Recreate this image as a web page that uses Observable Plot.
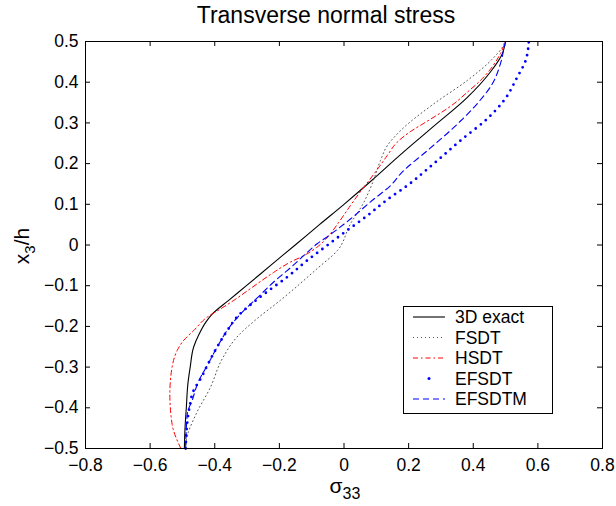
<!DOCTYPE html>
<html><head><meta charset="utf-8">
<script src="https://cdn.jsdelivr.net/npm/d3@7"></script>
<script src="https://cdn.jsdelivr.net/npm/@observablehq/plot@0.6"></script>
<style>body{margin:0;background:#fff}</style>
</head><body><div id="chart"></div>
<script>
const xTicks = [-0.8, -0.6, -0.4, -0.2, 0, 0.2, 0.4, 0.6, 0.8];
const yTicks = [-0.5, -0.4, -0.3, -0.2, -0.1, 0, 0.1, 0.2, 0.3, 0.4, 0.5];
const seriesNames = ["3D exact", "FSDT", "HSDT", "EFSDT", "EFSDTM"];

const exactY = [-0.5,-0.45,-0.4,-0.34,-0.3,-0.25,-0.22,-0.19,-0.17,-0.136,-0.1,-0.05,0,0.05,0.1,0.156,0.222,0.292,0.362,0.425,0.47,0.5];
const exactX = [-0.494,-0.492,-0.488,-0.483,-0.476,-0.465,-0.449,-0.428,-0.408,-0.357,-0.302,-0.227,-0.151,-0.076,0.0,0.082,0.175,0.278,0.381,0.453,0.49,0.5];

const fsdtY = [-0.5,-0.48,-0.419,-0.349,-0.28,-0.226,-0.181,-0.136,-0.058,-0.014,0.052,0.1,0.15,0.208,0.244,0.281,0.347,0.404,0.461,0.49,0.5];
const fsdtX = [-0.49,-0.488,-0.46,-0.413,-0.377,-0.331,-0.269,-0.197,-0.083,-0.021,0.02,0.058,0.087,0.113,0.134,0.175,0.278,0.381,0.464,0.493,0.497];

const hsdtY = [-0.5,-0.44,-0.366,-0.3,-0.259,-0.239,-0.21,-0.177,-0.157,-0.136,-0.104,-0.067,-0.042,-0.026,-0.005,0.023,0.056,0.097,0.126,0.158,0.191,0.22,0.253,0.281,0.298,0.347,0.375,0.404,0.47,0.5];
const hsdtX = [-0.505,-0.532,-0.539,-0.532,-0.516,-0.501,-0.465,-0.423,-0.382,-0.341,-0.284,-0.217,-0.166,-0.124,-0.083,-0.047,-0.016,0.02,0.046,0.077,0.108,0.134,0.165,0.21,0.245,0.34,0.381,0.422,0.484,0.5];

const efsdtY = [-0.5,-0.464,-0.398,-0.357,-0.329,-0.288,-0.243,-0.21,-0.177,-0.14,-0.112,-0.079,-0.038,-0.001,0.036,0.072,0.109,0.146,0.2,0.257,0.31,0.355,0.412,0.453,0.5];
const efsdtX = [-0.49,-0.488,-0.478,-0.465,-0.444,-0.418,-0.387,-0.361,-0.331,-0.279,-0.233,-0.176,-0.114,-0.052,0.01,0.072,0.13,0.196,0.278,0.361,0.443,0.495,0.536,0.562,0.572];

const efsdtmY = [-0.5,-0.415,-0.382,-0.333,-0.296,-0.243,-0.198,-0.161,-0.134,-0.087,-0.063,-0.022,0.003,0.023,0.064,0.106,0.15,0.175,0.232,0.289,0.347,0.396,0.445,0.49,0.5];
const efsdtmX = [-0.49,-0.485,-0.47,-0.449,-0.423,-0.387,-0.351,-0.31,-0.274,-0.212,-0.176,-0.119,-0.083,-0.047,0.02,0.082,0.149,0.175,0.258,0.34,0.412,0.459,0.484,0.497,0.5];

const toRows = (xs, ys) => xs.map((x, i) => ({x, y: ys[i]}));
const exact = toRows(exactX, exactY);
const fsdt = toRows(fsdtX, fsdtY);
const hsdt = toRows(hsdtX, hsdtY);
const efsdt = toRows(efsdtX, efsdtY);
const efsdtm = toRows(efsdtmX, efsdtmY);

const styles = [
  {stroke: "black", strokeWidth: 1.1},
  {stroke: "#555", strokeWidth: 1, strokeDasharray: "1,3"},
  {stroke: "#ff0000", strokeWidth: 1, strokeDasharray: "5,3,1.5,3"},
  {stroke: "#0000ff", strokeWidth: 2.8, strokeDasharray: "0,6.5", strokeLinecap: "round"},
  {stroke: "#0000ff", strokeWidth: 1.1, strokeDasharray: "6,4"}
];

const W = 616, H = 506, mL = 85, mR = 14, mT = 41, mB = 58;
const frameH = H - mT - mB, frameW = W - mL - mR, tick = 5;
const font = "'Liberation Sans', Arial, Helvetica, sans-serif";
const fmt = d3.format("");

const chart = Plot.plot({
  width: W, height: H,
  marginLeft: mL, marginRight: mR, marginTop: mT, marginBottom: mB,
  style: {fontFamily: font, fontSize: "17.5px", background: "white", color: "black"},
  x: {domain: [-0.8, 0.8]},
  y: {domain: [-0.5, 0.5]},
  marks: [
    Plot.line(exact, {x: "x", y: "y", curve: "monotone-y", ...styles[0]}),
    Plot.line(fsdt, {x: "x", y: "y", curve: "monotone-y", ...styles[1]}),
    Plot.line(hsdt, {x: "x", y: "y", curve: "monotone-y", ...styles[2]}),
    Plot.line(efsdt, {x: "x", y: "y", curve: "monotone-y", ...styles[3]}),
    Plot.line(efsdtm, {x: "x", y: "y", curve: "monotone-y", ...styles[4]}),
    Plot.ruleX(xTicks, {x: d => d, insetTop: frameH - tick, stroke: "black"}),
    Plot.ruleX(xTicks, {x: d => d, insetBottom: frameH - tick, stroke: "black"}),
    Plot.ruleY(yTicks, {y: d => d, insetRight: frameW - tick, stroke: "black"}),
    Plot.ruleY(yTicks, {y: d => d, insetLeft: frameW - tick, stroke: "black"}),
    Plot.axisX({ticks: xTicks, tickFormat: fmt, tickSize: 0, tickPadding: 10, label: null, fontSize: 17.5}),
    Plot.axisY({ticks: yTicks, tickFormat: fmt, tickSize: 0, tickPadding: 7, label: null, fontSize: 17.5}),
    Plot.frame({stroke: "black", strokeWidth: 1})
  ]
});
document.getElementById("chart").appendChild(chart);

const svg = d3.select(chart);
svg.append("text").attr("x", 326).attr("y", 23).attr("text-anchor", "middle")
  .attr("font-family", font).attr("font-size", 23).attr("fill", "black")
  .text("Transverse normal stress");

const xl = svg.append("text").attr("x", 345).attr("y", 493).attr("text-anchor", "middle")
  .attr("font-family", font).attr("font-size", 21).attr("fill", "black");
xl.append("tspan").text("σ");
xl.append("tspan").attr("dy", 6).attr("font-size", 16).text("33");

const yl = svg.append("text").attr("transform", "translate(29,246) rotate(-90)")
  .attr("text-anchor", "middle").attr("font-family", font).attr("font-size", 21).attr("fill", "black");
yl.append("tspan").text("x");
yl.append("tspan").attr("dy", 6).attr("font-size", 15).text("3");
yl.append("tspan").attr("dy", -6).text("/h");

// legend
const lg = svg.append("g").attr("text-anchor", "start");
lg.append("rect").attr("x", 403.5).attr("y", 306.5).attr("width", 149).attr("height", 107)
  .attr("fill", "white").attr("stroke", "black").attr("stroke-width", 1);
seriesNames.forEach((name, i) => {
  const yy = 317 + i * 20.5;
  const s = styles[i];
  if (i === 3) {
    lg.append("circle").attr("cx", 429).attr("cy", yy).attr("r", 1.5).attr("fill", s.stroke);
  } else {
    lg.append("line").attr("x1", 413).attr("x2", 445).attr("y1", yy).attr("y2", yy)
      .attr("stroke", s.stroke).attr("stroke-width", s.strokeWidth)
      .attr("stroke-dasharray", s.strokeDasharray || null);
  }
  lg.append("text").attr("x", 455).attr("y", yy).attr("dy", "0.35em").attr("text-anchor", "start")
    .attr("font-family", font).attr("font-size", 17.5).attr("fill", "black").text(name);
});
</script>
</body></html>
